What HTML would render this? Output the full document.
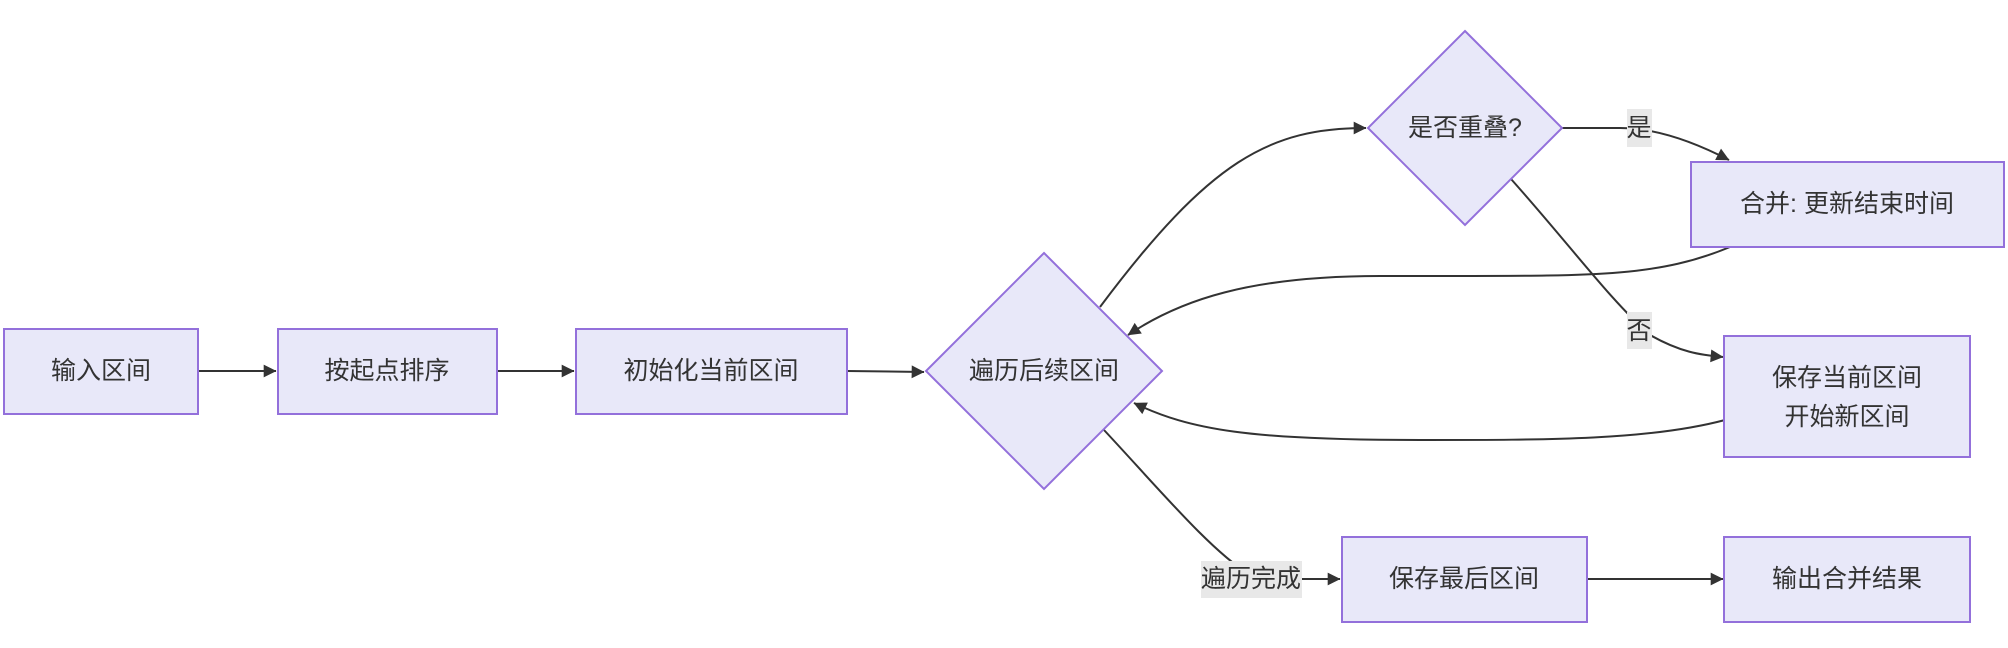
<!DOCTYPE html>
<html><head><meta charset="utf-8"><style>
html,body{margin:0;padding:0;background:#fff;width:2008px;height:648px;overflow:hidden}
svg text{font-family:"Liberation Sans","Noto Sans CJK SC",sans-serif;font-size:25px;fill:#333}
</style></head><body>
<svg width="2008" height="648" viewBox="0 0 2008 648" xmlns="http://www.w3.org/2000/svg">
<defs><marker id="a" viewBox="0 0 10 10" refX="9" refY="5" markerWidth="8" markerHeight="8" orient="auto" markerUnits="userSpaceOnUse" style="overflow:visible"><path d="M0,0 L10,5 L0,10 z" fill="#333" transform="scale(1.6) translate(-4,-1.9)"/></marker></defs>
<g fill="none" stroke="#333" stroke-width="2">
<path d="M198,371 L276,371" marker-end="url(#a)"/>
<path d="M497,371 L574,371" marker-end="url(#a)"/>
<path d="M847,371 L924,372" marker-end="url(#a)"/>
<path d="M1100,307 C1210,160 1270,128 1366,128" marker-end="url(#a)"/>
<path d="M1562,128 L1620,128 C1660,128 1700,145 1729,160" marker-end="url(#a)"/>
<path d="M1511,179 C1570,245 1610,300 1650,335 C1680,352 1700,355 1723,357" marker-end="url(#a)"/>
<path d="M1730,247 C1660,276 1600,276 1450,276 L1380,276 C1250,276 1180,300 1128,335" marker-end="url(#a)"/>
<path d="M1725,420 C1650,440 1550,440 1420,440 C1250,440 1190,430 1134,403" marker-end="url(#a)"/>
<path d="M1104,430 C1160,490 1210,550 1250,575 L1300,579 L1340,579" marker-end="url(#a)"/>
<path d="M1587,579 L1723,579" marker-end="url(#a)"/>
</g>
<g fill="#e8e8f9" stroke="#9370db" stroke-width="2">
<rect x="4" y="329" width="194" height="85"/>
<rect x="278" y="329" width="219" height="85"/>
<rect x="576" y="329" width="271" height="85"/>
<polygon points="1044,253 1162,371 1044,489 926,371"/>
<polygon points="1465,31 1562,128 1465,225 1368,128"/>
<rect x="1691" y="162" width="313" height="85"/>
<rect x="1724" y="336" width="246" height="121"/>
<rect x="1342" y="537" width="245" height="85"/>
<rect x="1724" y="537" width="246" height="85"/>
</g>
<g fill="#e8e8e8">
<rect x="1627" y="109" width="25" height="38"/>
<rect x="1627" y="312" width="25" height="37"/>
<rect x="1201" y="561" width="101" height="37"/>
</g>
<g text-anchor="middle" dominant-baseline="central">
<text x="101" y="371">输入区间</text>
<text x="387" y="371">按起点排序</text>
<text x="711" y="371">初始化当前区间</text>
<text x="1044" y="371">遍历后续区间</text>
<text x="1465" y="128">是否重叠?</text>
<text x="1847" y="204">合并: 更新结束时间</text>
<text x="1847" y="378">保存当前区间</text>
<text x="1847" y="417">开始新区间</text>
<text x="1464" y="579">保存最后区间</text>
<text x="1847" y="579">输出合并结果</text>
<text x="1639" y="128">是</text>
<text x="1639" y="331">否</text>
<text x="1251" y="579">遍历完成</text>
</g>
</svg>
</body></html>
